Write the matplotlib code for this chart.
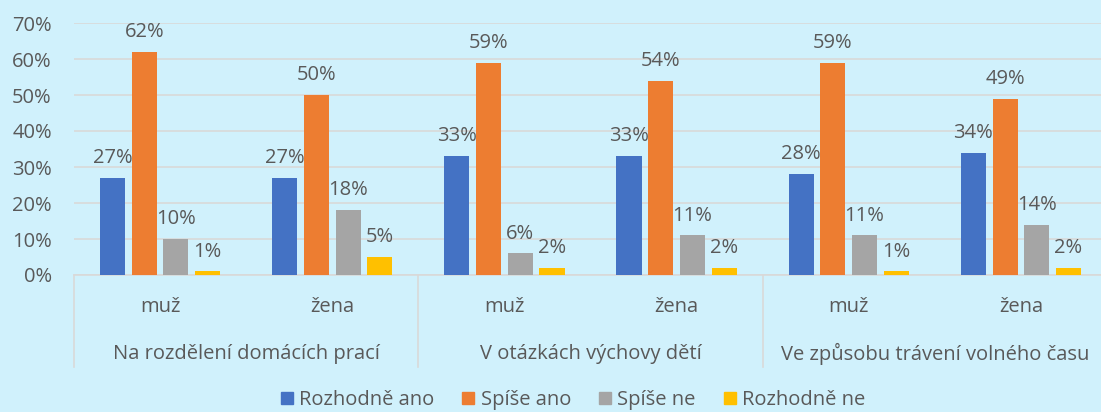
import matplotlib.pyplot as plt
import numpy as np
from matplotlib.patches import Patch

plt.rcParams['font.family'] = ['Open Sans', 'DejaVu Sans']

groups = ["Na rozdělení domácích prací", "V otázkách výchovy dětí", "Ve způsobu trávení volného času"]
genders = ["muž", "žena"]
series = ["Rozhodně ano", "Spíše ano", "Spíše ne", "Rozhodně ne"]
colors = ["#4472C4", "#ED7D31", "#A5A5A5", "#FFC000"]

rozhodne_ano = [27, 27, 33, 33, 28, 34]
spise_ano = [62, 50, 59, 54, 59, 49]
spise_ne = [10, 18, 6, 11, 11, 14]
rozhodne_ne = [1, 5, 2, 2, 1, 2]
values = [rozhodne_ano, spise_ano, spise_ne, rozhodne_ne]

BG = "#D0F1FC"
TXT = "#595959"
GRID = "#D9D9D9"
FS = 14.5

fig = plt.figure(figsize=(11.01, 4.12), dpi=100, facecolor=BG)
ax = fig.add_axes([74 / 1101, 1 - 275 / 412, (1107 - 74) / 1101, 252 / 412])
ax.set_facecolor(BG)

n = len(rozhodne_ano)
x = np.arange(n)
step = 0.184
width = 0.146
for i, (vals, col) in enumerate(zip(values, colors)):
    pos = x + (i - 1.5) * step
    bars = ax.bar(pos, vals, width, color=col, zorder=3, label=series[i])
    for b, v in zip(bars, vals):
        ax.annotate(f"{v}%", (b.get_x() + b.get_width() / 2, v), xytext=(0, 7),
                    textcoords="offset points", ha="center", va="bottom",
                    fontsize=FS, color=TXT)

ax.set_xlim(-0.5, n - 0.5)
ax.set_ylim(0, 70)
ax.set_yticks(range(0, 71, 10))
ax.set_yticklabels([f"{t}%" for t in range(0, 71, 10)])
ax.yaxis.grid(True, color=GRID, linewidth=1.2, zorder=0)
ax.tick_params(axis="y", length=0, labelsize=FS, labelcolor=TXT, pad=16)
ax.set_xticks([])
for s in ["top", "right", "left"]:
    ax.spines[s].set_visible(False)
ax.spines["bottom"].set_color(GRID)
ax.spines["bottom"].set_linewidth(1.2)

trans = ax.get_xaxis_transform()
for i in range(n):
    ax.text(i, -0.127, genders[i % 2], transform=trans, ha="center", va="center",
            fontsize=FS, color=TXT)
for g, name in enumerate(groups):
    ax.text(2 * g + 0.5, -0.313, name, transform=trans, ha="center", va="center",
            fontsize=FS, color=TXT)
for xb in [-0.5, 1.5, 3.5, 5.5]:
    ax.plot([xb, xb], [0, -0.365], transform=trans, color=GRID, linewidth=1.2,
            clip_on=False)

handles = [Patch(color=c, label=s) for c, s in zip(colors, series)]
fig.legend(handles=handles, loc="center", bbox_to_anchor=(573 / 1101, 1 - 400 / 412),
           ncol=4, frameon=False, fontsize=FS, labelcolor=TXT,
           handlelength=0.6, handleheight=0.6, handletextpad=0.3, columnspacing=1.4)

fig.savefig("out.png", dpi=100, facecolor=BG)
